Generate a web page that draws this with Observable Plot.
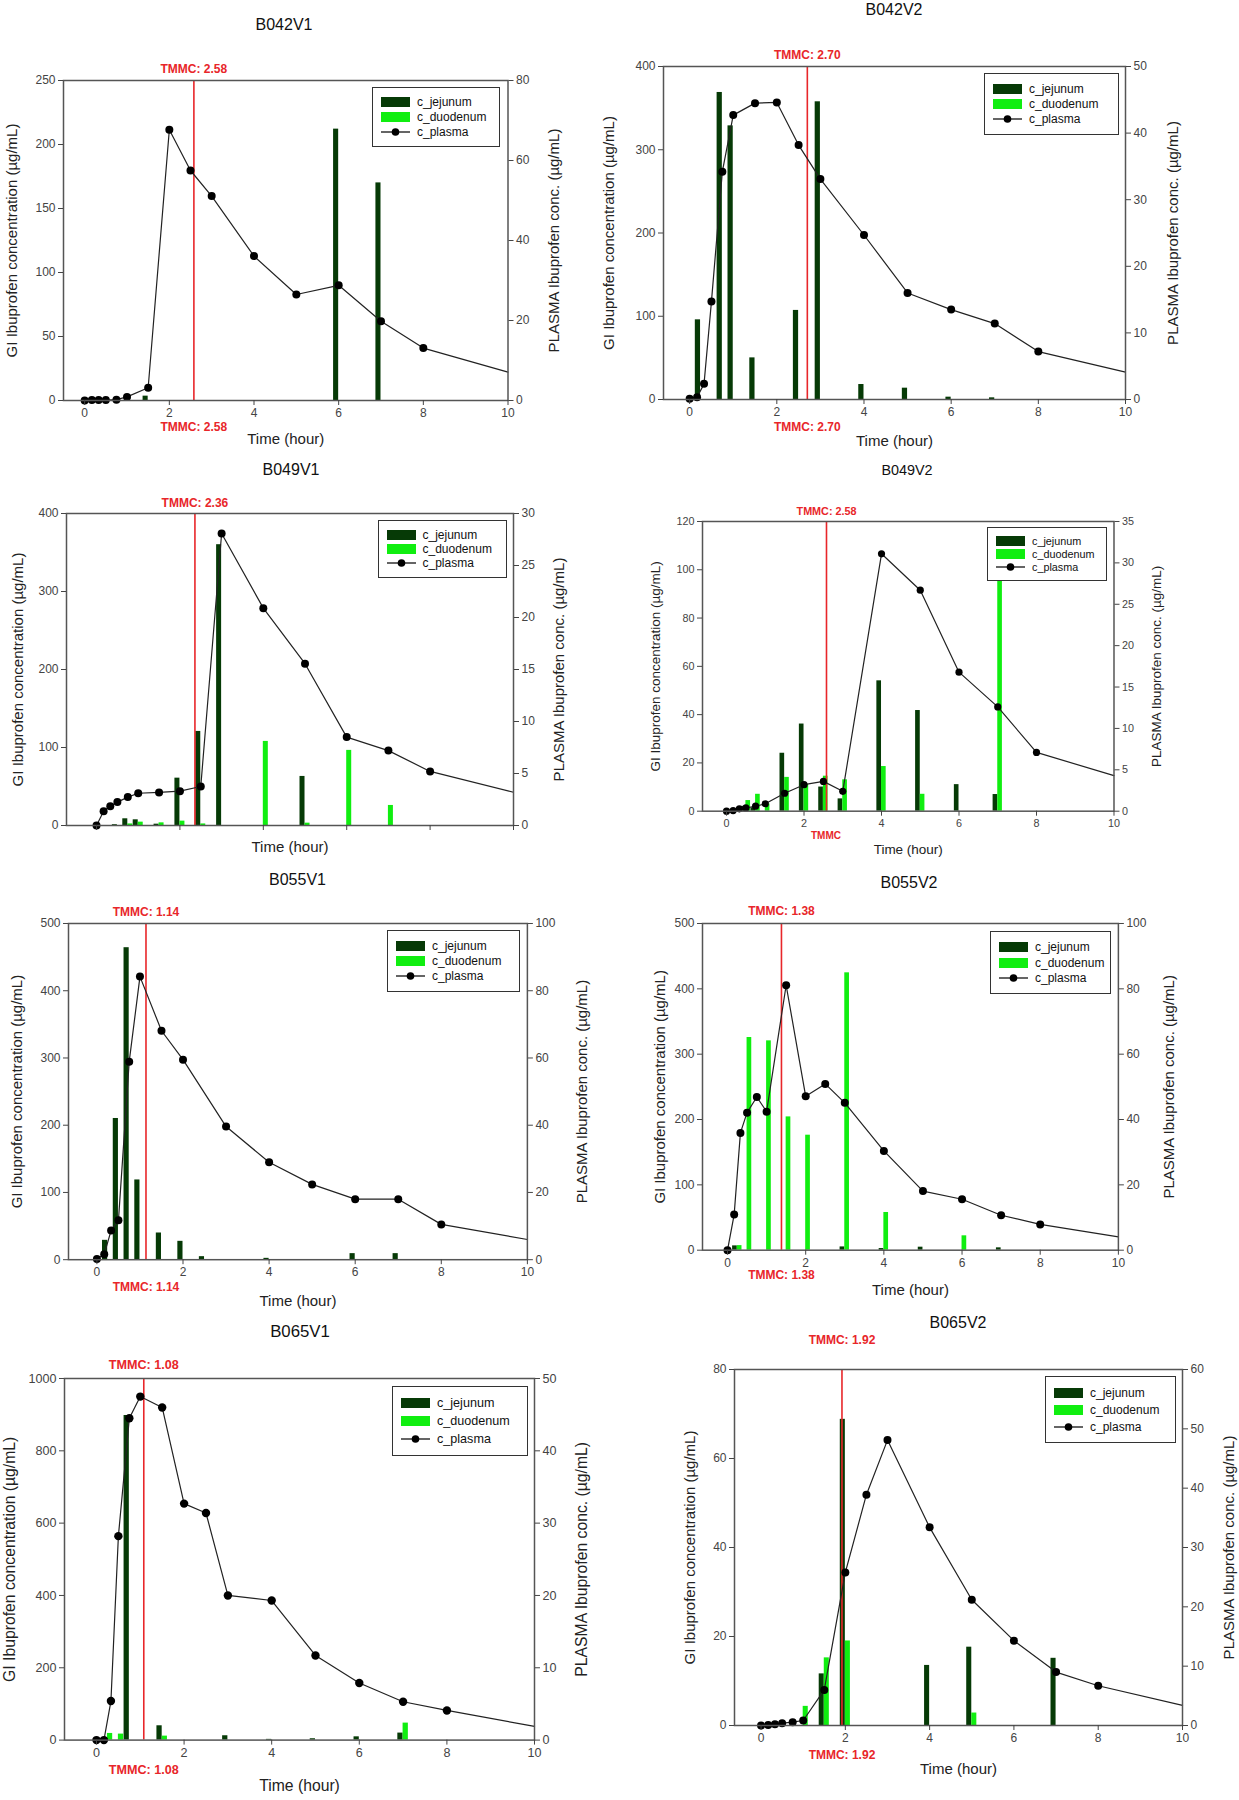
<!DOCTYPE html>
<html><head><meta charset="utf-8">
<script src="https://cdn.jsdelivr.net/npm/d3@7"></script>
<script src="https://cdn.jsdelivr.net/npm/@observablehq/plot@0.6"></script>
<style>
body{margin:0;background:#fff;}
#page{position:relative;width:1239px;height:1800px;overflow:hidden;font-family:"Liberation Sans",Arial,sans-serif;background:#fff;}
.title{position:absolute;transform:translate(-50%,-50%);font-size:16px;color:#111;white-space:nowrap;}
.legend{position:absolute;background:#fff;border:1.6px solid #333;box-sizing:border-box;display:flex;flex-direction:column;justify-content:center;padding-left:8px;color:#111;}
.row{display:flex;align-items:center;}
.sw{width:29px;height:10px;margin-right:7px;flex:none;}
.cut{position:absolute;transform:translateX(-50%);font-weight:bold;color:#e8262a;font-size:10px;line-height:10px;white-space:nowrap;}
</style></head><body><div id="page"></div><script>
// ---------------- data ----------------
const panelNames = ["B042V1","B042V2","B049V1","B049V2","B055V1","B055V2","B065V1","B065V2"];
const tmmcHours = [2.58, 2.70, 2.36, 2.58, 1.14, 1.38, 1.08, 1.92];
const plasmaTimes = [0,0.17,0.33,0.5,0.75,1,1.5,2,2.5,3,4,5,6,7,8,10];
const giTimes = [0.25,0.5,0.75,1,1.5,2,2.5,3,4,5,6,7];
const xTickValues = [0,2,4,6,8,10];
const giAxisMax = [250,400,400,120,500,500,1000,80];
const giAxisStep = [50,100,100,20,100,100,200,20];
const plasmaAxisMax = [80,50,30,35,100,100,50,60];
const plasmaAxisStep = [20,10,5,5,20,20,10,10];

const plasmaB042V1 = [0,0.1,0.1,0.1,0.2,0.9,3.2,67.7,57.5,51.1,36.1,26.5,28.8,19.8,13.1,7.1];
const plasmaB042V2 = [0.1,0.35,2.35,14.7,34.2,42.7,44.5,44.6,38.2,33.1,24.7,16.0,13.5,11.4,7.2,4.1];
const plasmaB049V1 = [0,1.38,1.86,2.25,2.73,3.1,3.18,3.3,3.75,28.07,20.9,15.56,8.5,7.2,5.2,3.2];
const plasmaB049V2 = [0,0.08,0.28,0.4,0.6,0.9,2.17,3.2,3.6,2.4,31.1,26.7,16.8,12.6,7.1,4.3];
const plasmaB055V1 = [0.2,1.6,8.7,11.7,58.9,84.2,68.1,59.5,null,39.6,29,22.4,18,18,10.5,6];
const plasmaB055V2 = [0,10.9,35.9,42.1,46.9,42.4,81.1,47.1,50.9,45.1,30.4,18.1,15.6,10.7,7.9,4.1];
const plasmaB065V1 = [0,0,5.4,28.2,44.5,47.5,46.0,32.7,31.4,20.0,19.3,11.7,7.9,5.3,4.1,1.9];
const plasmaB065V2 = [0,0.1,0.2,0.4,0.56,0.84,6.0,25.8,38.9,48.1,33.4,21.2,14.3,9.0,6.7,3.4];

const jejunumB042V1 = [0,0,0,0,3.4,0,0,0,0,0,212,170];
const jejunumB042V2 = [95.7,0,368.8,328.7,50,0,107,357.6,18,13.6,2.8,2];
const jejunumB049V1 = [0,1,8.6,7.3,1.7,60.7,120.6,360,0,62.9,0,0];
const jejunumB049V2 = [0,2,1.4,0,24,36.1,10,5.1,54,41.7,11,6.9];
const jejunumB055V1 = [28.8,210,464,118.6,39.7,27.3,4.5,0,2,0,9,9];
const jejunumB055V2 = [6.6,0,0,0,0,0,0,5,2.5,4.6,0,3.6];
const jejunumB065V1 = [0,0,897.7,0,39.6,0,0,12,2,3.7,9,19.4];
const jejunumB065V2 = [0,0,0,0,11.6,68.8,0,0,13.5,17.6,0,15.1];

const duodenumB042V1 = [0,0,0,0,0,0,0,0,0,0,0,0];
const duodenumB042V2 = [0,0,0,0,0,0,0,0,0,0,0,0];
const duodenumB049V1 = [0,0,2,4.3,3.4,5.6,2,0,107.8,3,96.3,25.7];
const duodenumB049V2 = [0,4.4,7,3,14,11,14.5,13,18.5,7,0,100];
const duodenumB055V1 = [0,0,0,0,0,0,0,0,0,0,0,0];
const duodenumB055V2 = [7,325.5,0,320.4,204,176,0,424.5,57.7,0,22,0];
const duodenumB065V1 = [18.4,16.6,0,0,11,0,0,0,0,0,0,47];
const duodenumB065V2 = [0,0,0,4.3,15.2,19,0,0,0,2.8,0,0];

const plasmaSeries = [plasmaB042V1,plasmaB042V2,plasmaB049V1,plasmaB049V2,plasmaB055V1,plasmaB055V2,plasmaB065V1,plasmaB065V2];
const jejunumSeries = [jejunumB042V1,jejunumB042V2,jejunumB049V1,jejunumB049V2,jejunumB055V1,jejunumB055V2,jejunumB065V1,jejunumB065V2];
const duodenumSeries = [duodenumB042V1,duodenumB042V2,duodenumB049V1,duodenumB049V2,duodenumB055V1,duodenumB055V2,duodenumB065V1,duodenumB065V2];

// ---------------- layout & style ----------------
const JEJ = "#063a06", DUO = "#10ee10", RED = "#e8262a";
const BAR = 0.12;
const layout = [
  {frame:[63,507.5,80,400], xmin:-0.5, title:[284,25], tmTop:64.3, tmBot:430, xLab:443, lLab:12, rLab:553.5, legend:[372,87,128,60], showX:true, fs:1},
  {frame:[663,1125,66,399], xmin:-0.6, title:[894,10], tmTop:50, tmBot:430, xLab:445, lLab:609, rLab:1173, legend:[984,73,135,62], showX:true, fs:1},
  {frame:[66,513,513,825], xmin:-0.72, title:[291,470], tmTop:498.3, tmBot:null, xLab:851.7, lLab:18, rLab:559, legend:[377.5,520,129,58], showX:false, fs:1},
  {frame:[701.5,1113,521,810.7], xmin:-0.62, title:[907,470], tmTop:507.3, tmBot:null, xLab:853.3, lLab:654.5, rLab:1155.5, legend:[987,527,120,54], showX:true, fs:0.9, cutBot:[826,831]},
  {frame:[67.5,526.4,922.5,1258.7], xmin:-0.66, title:[297.5,880], tmTop:906.7, tmBot:1290, xLab:1305, lLab:16, rLab:581, legend:[387,930,133,62], showX:true, fs:1},
  {frame:[701.5,1117.4,923.3,1250], xmin:-0.64, title:[909,883.3], tmTop:906.7, tmBot:1279.3, xLab:1295, lLab:659, rLab:1168, legend:[990,931,121,63], showX:true, fs:1},
  {frame:[64.3,534.3,1377.7,1739.3], xmin:-0.73, title:[300,1331.7], tmTop:1359, tmBot:1773.3, xLab:1790, lLab:10, rLab:582, legend:[392,1386,136,70], showX:true, fs:1.05},
  {frame:[734,1182,1369,1725], xmin:-0.63, title:[958,1323.3], tmTop:1335, tmBot:1758.3, xLab:1773.3, lLab:690, rLab:1229, legend:[1045,1376,131,67], showX:true, fs:1}
];

const page = document.getElementById("page");
const fmt = v => String(Math.round(v * 1000) / 1000);

function buildPanel(i) {
  const L = layout[i];
  const [x0, x1, y0, y1] = L.frame;
  const ML = 70, MR = 70, MT = 50, MB = 65;
  const fs = L.fs;
  const k = giAxisMax[i] / plasmaAxisMax[i];
  const last = plasmaTimes.length - 1;
  const plasmaRows = plasmaTimes.map((t, j) => ({t, v: plasmaSeries[i][j], end: j === last})).filter(d => d.v != null);
  const jej = giTimes.map((t, j) => ({t, v: jejunumSeries[i][j]})).filter(d => d.v > 0);
  const duo = giTimes.map((t, j) => ({t, v: duodenumSeries[i][j]})).filter(d => d.v > 0);
  const leftTicks = d3.range(0, giAxisMax[i] + 1e-9, giAxisStep[i]);
  const rightTicks = d3.range(0, plasmaAxisMax[i] + 1e-9, plasmaAxisStep[i]).map(v => v * k);
  const tm = tmmcHours[i];
  const marks = [
    Plot.rect(jej, {x1: d => d.t - BAR, x2: d => d.t, y1: 0, y2: "v", fill: JEJ}),
    Plot.rect(duo, {x1: d => d.t, x2: d => d.t + BAR, y1: 0, y2: "v", fill: DUO}),
    Plot.ruleX([tm], {stroke: RED, strokeWidth: 1.6}),
    Plot.line(plasmaRows, {x: "t", y: d => d.v * k, stroke: "#222", strokeWidth: 1.2}),
    Plot.dot(plasmaRows.filter(d => !d.end), {x: "t", y: d => d.v * k, r: 4 * fs, fill: "#000"}),
    Plot.frame({stroke: "#555", strokeWidth: 1.5}),
    Plot.axisY(leftTicks, {anchor: "left", label: null, tickSize: 5, tickPadding: 3, fontSize: 12 * fs, color: "#444", tickFormat: d => String(d)}),
    Plot.axisY(rightTicks, {anchor: "right", label: null, tickSize: 5, tickPadding: 3, fontSize: 12 * fs, color: "#444", tickFormat: d => fmt(d / k)}),
    Plot.axisX(xTickValues, {anchor: "bottom", label: null, tickSize: 5, tickPadding: 3, fontSize: 12 * fs, color: "#444", tickFormat: L.showX ? d => String(d) : () => ""}),
    Plot.text([tm], {x: d => d, frameAnchor: "top", dy: L.tmTop - y0, text: d => "TMMC: " + d.toFixed(2), fill: RED, fontWeight: "bold", fontSize: 12 * fs, textAnchor: "middle"}),
    Plot.text(["Time (hour)"], {frameAnchor: "bottom", dy: L.xLab - y1, fontSize: 15 * fs, fill: "#222", textAnchor: "middle"}),
    Plot.text(["GI Ibuprofen concentration (µg/mL)"], {frameAnchor: "left", dx: L.lLab - x0, rotate: -90, textAnchor: "middle", fontSize: 15 * fs, fill: "#222"}),
    Plot.text(["PLASMA Ibuprofen conc. (µg/mL)"], {frameAnchor: "right", dx: L.rLab - x1, rotate: -90, textAnchor: "middle", fontSize: 15 * fs, fill: "#222"})
  ];
  if (L.tmBot != null) {
    marks.push(Plot.text([tm], {x: d => d, frameAnchor: "bottom", dy: L.tmBot - y1, text: d => "TMMC: " + d.toFixed(2), fill: RED, fontWeight: "bold", fontSize: 12 * fs, textAnchor: "middle"}));
  }
  const svg = Plot.plot({
    width: (x1 - x0) + ML + MR,
    height: (y1 - y0) + MT + MB,
    marginLeft: ML, marginRight: MR, marginTop: MT, marginBottom: MB,
    x: {domain: [L.xmin, 10], label: null},
    y: {domain: [0, giAxisMax[i]], label: null},
    style: {background: "none", overflow: "visible", fontFamily: '"Liberation Sans", Arial, sans-serif', fontSize: "12px", color: "#222"},
    marks
  });
  svg.style.position = "absolute";
  svg.style.left = (x0 - ML) + "px";
  svg.style.top = (y0 - MT) + "px";
  page.appendChild(svg);

  // title
  const t = document.createElement("div");
  t.className = "title";
  t.textContent = panelNames[i];
  t.style.left = L.title[0] + "px";
  t.style.top = L.title[1] + "px";
  t.style.fontSize = (16 * fs) + "px";
  page.appendChild(t);

  // partially shown bottom TMMC label
  if (L.cutBot) {
    const c = document.createElement("div");
    c.className = "cut";
    c.textContent = "TMMC";
    c.style.left = L.cutBot[0] + "px";
    c.style.top = L.cutBot[1] + "px";
    page.appendChild(c);
  }

  // legend
  const [lx, ly, lw, lh] = L.legend;
  const lg = document.createElement("div");
  lg.className = "legend";
  Object.assign(lg.style, {left: lx + "px", top: ly + "px", width: lw + "px", height: lh + "px", fontSize: (12 * fs) + "px"});
  const rowH = (lh - 16) / 3;
  const entries = [["c_jejunum", JEJ], ["c_duodenum", DUO], ["c_plasma", null]];
  for (const [name, col] of entries) {
    const r = document.createElement("div");
    r.className = "row";
    r.style.height = rowH + "px";
    if (col) {
      const sw = document.createElement("div");
      sw.className = "sw";
      sw.style.background = col;
      r.appendChild(sw);
    } else {
      const ns = "http://www.w3.org/2000/svg";
      const s = document.createElementNS(ns, "svg");
      s.setAttribute("width", 29); s.setAttribute("height", 10);
      s.style.marginRight = "7px"; s.style.flex = "none";
      const ln = document.createElementNS(ns, "line");
      ln.setAttribute("x1", 0); ln.setAttribute("x2", 29); ln.setAttribute("y1", 5); ln.setAttribute("y2", 5);
      ln.setAttribute("stroke", "#111"); ln.setAttribute("stroke-width", 1.3);
      const ci = document.createElementNS(ns, "circle");
      ci.setAttribute("cx", 14.5); ci.setAttribute("cy", 5); ci.setAttribute("r", 3.8); ci.setAttribute("fill", "#000");
      s.appendChild(ln); s.appendChild(ci);
      r.appendChild(s);
    }
    const sp = document.createElement("span");
    sp.textContent = name;
    r.appendChild(sp);
    lg.appendChild(r);
  }
  page.appendChild(lg);
}

for (let i = 0; i < panelNames.length; i++) buildPanel(i);
</script></body></html>
